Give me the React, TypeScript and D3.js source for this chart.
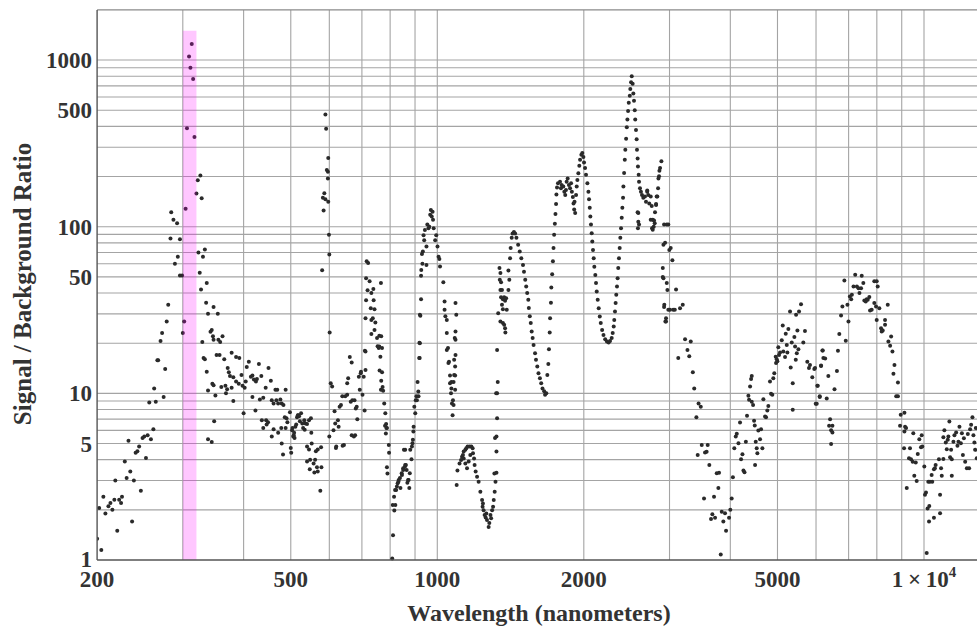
import React, { useEffect } from 'react';
import * as d3 from 'd3';

// [wavelength nm, signal/background ratio]
const uvRise: [number, number][] = [
  [200, 1.34], [204, 1.15], [202, 2.05], [206, 2.4], [208, 1.9], [211, 2.1], [213, 2.2], [215, 2.0], [217, 2.3],
  [220, 1.5], [222, 2.3], [224, 2.2], [225, 2.4], [218, 3.0], [230, 3.1], [234, 3.4], [228, 3.9], [236, 1.7],
  [238, 3.0], [232, 5.2], [240, 4.4], [242, 4.5], [244, 4.8], [246, 2.6], [248, 5.4], [250, 5.5], [254, 5.6],
  [252, 4.1], [258, 5.3], [261, 6.1], [256, 8.8], [264, 8.9], [262, 10.7], [274, 9.5], [266, 15.8], [267, 15.8],
  [276, 14.0], [270, 20.6], [272, 23], [278, 27], [280, 34], [283, 85], [296, 84], [284, 122], [287, 110],
  [292, 105], [289, 60], [293, 66], [296, 51], [299, 51],
];

const bandPeak: [number, number][] = [
  [300, 23], [302, 27], [304, 128], [313, 1250], [309, 1050], [311, 900], [315, 770], [306, 390], [317, 345],
  [326, 203], [322, 190], [320, 158], [328, 148],
];

const uvFall: [number, number][] = [
  [323, 70], [330, 66], [333, 73], [325, 53], [327, 42], [336, 46], [335, 35], [347, 33], [354, 30], [338, 30],
  [342, 23.4], [344, 24], [346, 22], [347, 21], [355, 21], [358, 20.3], [362, 22], [329, 20.3], [352, 17],
  [357, 17], [365, 16], [331, 16.3], [333, 16], [378, 17.5], [386, 16.5], [392, 16.3], [336, 13.5], [338, 10.4],
  [345, 11.4], [347, 11.2], [350, 9.7], [348, 6.8], [338, 5.3], [344, 5.1], [360, 10.9], [367, 11.1], [370, 10.6],
  [368, 10.0], [378, 10.8], [371, 14.2], [373, 13.4], [375, 12.7], [381, 12.5], [381, 9], [386, 11.8], [391, 11.4],
  [396, 12.9], [398, 11.1], [402, 10.8], [404, 11.8], [400, 7.6], [406, 14.4], [410, 15.5], [414, 12.6],
  [417, 12.8], [420, 12.1], [424, 11.8], [426, 12.2], [417, 9.5], [430, 15], [435, 12.7], [432, 9.2], [423, 7.9],
  [439, 9.4], [444, 10.8], [450, 14.2], [455, 11.9], [457, 9.1], [461, 8.7], [457, 5.5], [461, 6.1], [436, 6.9],
  [439, 6.2], [445, 6.9], [446, 6.5], [449, 6.7], [465, 10.5], [469, 10.5], [467, 9.1], [471, 8.7], [476, 9.2],
  [479, 8.7], [483, 8.5], [488, 10.5], [486, 7.2], [490, 7.1], [492, 6.7], [471, 5.8], [479, 5], [482, 4.3],
  [478, 6.2], [488, 6.2], [498, 7.7], [500, 4.7], [501, 4.4], [503, 6], [506, 5.5], [508, 5.8], [511, 6.3],
  [515, 7.2], [518, 7.4],
];

const greenDip: [number, number][] = [
  [504, 6.2], [507, 5.6], [509, 5.4], [513, 6.5], [517, 7.4], [520, 7.3], [525, 7.6], [522, 6.8], [528, 6.6],
  [533, 6.9], [536, 6.6], [540, 6.55], [545, 6.9], [550, 7.1], [530, 6.2], [534, 6.05], [540, 4.8], [545, 4.6],
  [540, 3.9], [548, 4.0], [547, 3.5], [552, 5.0], [557, 3.8], [561, 4.0], [563, 4.5], [568, 4.6], [566, 3.6],
  [559, 3.35], [568, 3.4], [578, 3.6], [577, 4.75], [575, 2.6], [551, 5.8],
];

const orangeSpike: [number, number][] = [
  [589, 471], [591, 387], [597, 258], [593, 219], [596, 214], [596, 195], [586, 159], [582, 149], [589, 146],
  [597, 141], [584, 125], [599, 89.5], [600, 68], [580, 54.8], [601, 23.2],
];

const redBand: [number, number][] = [
  [604, 11.5], [608, 11.0], [600, 5.5], [615, 7.8], [617, 6.6], [612, 6.0], [619, 4.7], [625, 6.9], [627, 6.3],
  [630, 8.3], [634, 8.5], [638, 9.6], [643, 4.9], [647, 9.6], [653, 9.8], [653, 11.5], [656, 12.3], [661, 16.5],
  [667, 15.3], [664, 8.9], [669, 9.1], [676, 9.1], [678, 5.6], [680, 8.1], [685, 7.0], [683, 8.3], [690, 12.6],
  [697, 13.5], [696, 13.2], [702, 9.8], [706, 12.6], [709, 7.9], [712, 13.8], [693, 10.5], [712, 17.8],
  [620, 4.8], [639, 4.85], [667, 5.6], [674, 5.5],
];

const deepRed: [number, number][] = [
  [716, 62], [721, 60.5], [714, 49], [726, 47], [719, 41.5], [739, 42.3], [732, 40], [714, 36.2], [740, 36.2],
  [730, 32.4], [743, 32], [712, 28.2], [732, 27.6], [737, 28.2], [746, 26.6], [732, 22.7], [743, 24], [752, 21.5],
  [760, 22.2], [767, 22], [754, 19.2], [758, 18.7], [764, 16.6], [770, 18.7], [766, 46], [761, 13.7], [770, 13.4],
  [767, 11.9], [772, 10.9], [774, 10.35], [778, 8.7], [782, 7.6], [785, 6.55], [788, 6.2], [784, 5.75], [795, 4.9],
  [796, 4.4], [788, 3.6], [790, 3.3], [710, 18], [760, 19.1], [766, 10.5], [781, 6.4], [786, 6.2],
];

const nearIr: [number, number][] = [
  [808, 1.02], [811, 1.41], [816, 1.98], [820, 2.14], [823, 2.63], [829, 2.89], [833, 3.02], [840, 2.7],
  [846, 3.24], [851, 3.55], [859, 3.72], [859, 4.58], [865, 3.47], [873, 3.02], [878, 3.32], [885, 4.03],
  [889, 5.02], [893, 5.9], [897, 8.3], [903, 9.1], [906, 9.6], [914, 10.25], [920, 16.3], [919, 20.1], [923, 29.2],
  [926, 36.7], [926, 50.8], [927, 55], [932, 60], [930, 68.5], [934, 71], [940, 83], [937, 89], [943, 95.5],
  [950, 59], [950, 76], [954, 103], [959, 98], [963, 100], [967, 118], [974, 115], [970, 126], [978, 123],
  [980, 110], [983, 98], [990, 83], [995, 89], [1001, 76], [1006, 66], [1010, 64], [1013, 57.7],
  [810, 2.14], [815, 2.4], [819, 2.63], [826, 2.76], [832, 2.95], [838, 3.1], [845, 3.32], [851, 3.47],
  [858, 3.63], [862, 3.72], [871, 3.02], [876, 2.7], [868, 2.91], [854, 4.58], [880, 4.58], [887, 4.8],
  [891, 5.26], [894, 6.3], [901, 7.6], [908, 9.1], [911, 11.7], [915, 9.6], [918, 16.3], [921, 20], [921, 29.6],
];

const micronFall: [number, number][] = [
  [1029, 46.5], [1035, 35.6], [1039, 29], [1046, 23], [1052, 18.7], [1054, 15.2], [1062, 11.5], [1067, 10],
  [1072, 8.7], [1075, 7.4], [1035, 31.7], [1046, 27.6], [1046, 18.2], [1057, 15.5], [1062, 12.8], [1069, 11.7],
  [1069, 10.7], [1077, 9.1], [1080, 8.5], [1090, 34.8], [1094, 29.6], [1090, 23.5], [1090, 21], [1090, 17],
  [1088, 14.5], [1088, 12.8], [1080, 11.7], [1088, 10.5], [1086, 21.5], [1083, 15.9], [1083, 12.9],
];

const waterBump: [number, number][] = [
  [1096, 2.82], [1100, 3.44], [1111, 3.8], [1119, 3.98], [1124, 4.17], [1129, 4.27], [1133, 4.48], [1142, 4.58],
  [1147, 4.69], [1154, 4.8], [1165, 4.8], [1175, 4.8], [1182, 4.69], [1184, 4.37], [1190, 4.07], [1193, 3.72],
  [1199, 3.4], [1207, 3.16], [1216, 2.95], [1226, 2.57], [1236, 2.29], [1239, 2.09], [1245, 1.99], [1251, 1.86],
  [1257, 1.8], [1265, 1.74], [1275, 1.58], [1279, 1.67], [1286, 1.86], [1290, 1.78], [1296, 1.99], [1302, 2.09],
  [1306, 2.29], [1312, 2.57], [1317, 2.95], [1323, 3.34], [1133, 4.07], [1142, 3.8], [1151, 3.55], [1160, 3.9],
  [1169, 4.27], [1241, 2.18], [1261, 1.9],
];

const hBandRise: [number, number][] = [
  [1323, 4.48], [1323, 5.5], [1327, 7.1], [1327, 10], [1331, 11.7], [1327, 18.2], [1310, 3.3], [1314, 5.4],
  [1321, 10], [1342, 56.5], [1348, 52.7], [1344, 48], [1352, 46.5], [1348, 41.7], [1358, 41.7], [1352, 37.7],
  [1364, 36.7], [1372, 37.7], [1385, 37.2], [1378, 36], [1358, 34], [1364, 32], [1334, 30.3], [1348, 27],
  [1364, 26.4], [1372, 25.8], [1378, 24.6], [1380, 23.2], [1389, 31.7], [1400, 41.7], [1406, 48], [1400, 54.6],
  [1411, 64.6], [1415, 74.5], [1422, 85.8], [1428, 91], [1437, 93], [1445, 91], [1454, 85.8],
];

const hBandFall: [number, number][] = [
  [1466, 78], [1477, 71], [1488, 64.6], [1500, 59], [1507, 53.6], [1516, 48], [1523, 43.8], [1530, 40],
  [1538, 36.4], [1542, 32.5], [1549, 29], [1556, 26.4], [1563, 23.5], [1570, 21.5], [1577, 19.5], [1588, 17.4],
  [1595, 15.9], [1605, 14.5], [1614, 13.2], [1625, 12.3], [1635, 11.5], [1645, 10.7], [1658, 10.3], [1665, 9.8],
  [1675, 10], [1683, 12.9], [1691, 15], [1696, 18.4], [1702, 23.2], [1705, 28.2], [1712, 35], [1715, 43.2],
  [1722, 51.9], [1728, 62], [1733, 74.5], [1738, 89.5], [1744, 104], [1749, 119], [1754, 137], [1757, 156],
  [1762, 172], [1770, 182],
];

const twoMicron: [number, number][] = [
  [1787, 186], [1801, 178], [1795, 170], [1815, 174], [1824, 162], [1832, 155], [1838, 166], [1844, 186],
  [1853, 195], [1864, 178], [1874, 170], [1883, 182], [1890, 162], [1899, 151], [1905, 138], [1911, 127],
  [1920, 121], [1914, 141], [1928, 155], [1934, 174], [1940, 191], [1949, 209], [1958, 232], [1965, 252],
  [1977, 270], [1986, 277], [1996, 262], [2002, 243], [2012, 225], [2021, 205],
];

const kBand: [number, number][] = [
  [2034, 182], [2044, 162], [2050, 146], [2057, 130], [2063, 115], [2069, 103], [2076, 91.5], [2082, 81.5],
  [2089, 72.6], [2096, 64.6], [2102, 57.5], [2112, 51.3], [2119, 46], [2126, 40.8], [2136, 36.4], [2146, 32.4],
  [2157, 28.9], [2167, 26.4], [2181, 24], [2195, 22.4], [2213, 21.1], [2231, 20.5], [2249, 20.2], [2264, 20.6],
  [2282, 21.5], [2293, 23], [2304, 25.2], [2310, 27.6], [2318, 31], [2325, 34.8], [2332, 39], [2340, 43.8],
  [2347, 49], [2354, 56.5], [2362, 64.6], [2370, 74.5], [2377, 86], [2385, 98], [2393, 113], [2400, 130],
  [2408, 149], [2412, 174], [2420, 210], [2428, 252], [2434, 290], [2443, 337], [2451, 395], [2458, 440],
  [2466, 495], [2474, 555], [2486, 610], [2492, 670], [2501, 735], [2509, 800],
];

const peakFall: [number, number][] = [
  [2520, 720], [2528, 630], [2536, 570], [2545, 500], [2551, 440], [2560, 380], [2568, 335], [2572, 290],
  [2580, 257], [2584, 230], [2593, 205], [2597, 186], [2609, 170], [2621, 162], [2634, 155], [2650, 149],
  [2671, 152], [2684, 141], [2700, 162], [2713, 155], [2726, 138], [2745, 152], [2758, 133], [2771, 110],
  [2784, 100], [2797, 105], [2815, 135], [2832, 152], [2842, 170], [2855, 201], [2869, 225], [2887, 247],
  [2588, 121], [2597, 103], [2584, 98], [2924, 103], [2961, 103], [2983, 103], [2915, 78], [2938, 80],
  [2906, 56.5], [2915, 49], [2961, 46], [2970, 41.7], [2924, 33], [2942, 27], [2983, 31.7], [2860, 217],
  [2847, 195], [2823, 152], [2815, 137], [2801, 122], [2788, 109], [2762, 98], [2771, 96], [2745, 110],
  [2700, 165], [2588, 107], [2580, 122], [3017, 74.5], [2997, 72.6], [3041, 63], [2906, 50], [3094, 42],
  [2927, 34], [3007, 31.7], [3053, 31.7], [3076, 31.7], [3153, 32.4], [3194, 34], [2951, 27], [2951, 28.2],
];

const midIrDip: [number, number][] = [
  [3229, 21.1], [3317, 20.5], [3266, 18.2], [3294, 16.7], [3127, 16.3], [3350, 13.4], [3372, 10.7], [3442, 8.7],
  [3478, 8.3], [3407, 7.2], [3494, 4.9], [3594, 4.9], [3549, 4.41], [3576, 4.47], [3428, 4.27], [3622, 3.72],
  [3751, 3.32], [3792, 3.34], [3780, 2.7], [3703, 2.4], [3532, 2.34], [3674, 1.88], [3721, 1.79], [3651, 1.76],
  [3841, 1.95], [3901, 1.91], [3870, 1.7], [3920, 1.5], [3976, 1.79], [4000, 2.0], [4026, 2.34], [3823, 1.08],
  [4049, 3.14],
];

const mBand: [number, number][] = [
  [4076, 4.69], [4104, 5.5], [4124, 5.73], [4157, 5.02], [4188, 6.68], [4208, 4.02], [4236, 4.31], [4256, 3.44],
  [4277, 3.36], [4305, 5.13], [4329, 7.33], [4357, 9.66], [4392, 11.0], [4413, 12.2], [4427, 12.7], [4371, 9.14],
  [4427, 8.9], [4455, 8.5], [4476, 6.84], [4490, 6.41], [4511, 5.13], [4532, 4.69], [4497, 3.72], [4546, 4.37],
  [4567, 5.98], [4604, 5.31], [4626, 6.1], [4655, 4.69], [4677, 9.23], [4714, 7.26], [4736, 7.2], [4765, 7.88],
  [4788, 8.41], [4826, 11.8], [4849, 9.93], [4879, 9.8], [4902, 12.3], [4925, 13.2], [4958, 16.6], [4982, 16.0],
  [4966, 15.2], [4997, 15.6], [5020, 18.9], [5037, 17.0], [5061, 17.6], [5102, 20.8], [5126, 25.5], [5140, 17.8],
  [5182, 16.5], [5199, 22.8], [5224, 19.5], [5239, 17.6], [5264, 24.3], [5306, 31.0], [5323, 14.3], [5349, 20.2],
  [5374, 11.5], [5374, 7.96], [5416, 21.8], [5434, 19.1], [5452, 15.9], [5460, 29.6], [5478, 17.4], [5494, 23.8],
  [5520, 18.4], [5536, 31.0], [5589, 34.3], [5650, 20.2], [5694, 23.7], [5757, 15.5], [5803, 14.2], [5831, 14.8],
  [5895, 12.5], [5951, 14.0], [5991, 8.65], [6037, 11.1], [6106, 9.6], [6144, 14.6], [6194, 18.1], [6212, 16.3],
];

const nBand: [number, number][] = [
  [5972, 14.2], [6049, 11.1], [6106, 9.5], [6020, 8.65], [6312, 9.3], [6184, 18.1], [6265, 16.2], [6144, 14.7],
  [6360, 12.7], [6413, 7.0], [6383, 6.4], [6484, 6.4], [6444, 6.0], [6484, 5.82], [6444, 4.97], [6548, 10.6],
  [6624, 13.6], [6656, 18.0], [6699, 22.7], [6754, 29.3], [6797, 33.2], [6907, 20.7], [6961, 34.0], [6995, 27.0],
  [6861, 47.6], [7042, 38.1], [7086, 36.7], [7109, 39.0], [7164, 43.8], [7222, 51.5], [7280, 43.8], [7335, 42.8],
  [7369, 40.0], [7424, 42.8], [7448, 50.8], [7505, 46.0], [7541, 36.1], [7591, 35.6], [7627, 36.7], [7663, 36.4],
  [7721, 37.8], [7747, 31.4], [7808, 31.7], [7905, 34.8], [7969, 33.2], [7905, 47], [7995, 47], [8033, 43.8],
  [8095, 32.4], [7995, 27.6], [8161, 24.6], [8187, 23.5], [8226, 23.8], [8317, 25.8], [8317, 27.6], [8424, 34.0],
  [8450, 20.5], [8519, 19.3], [8560, 21.9], [8613, 17.8], [8696, 14.8], [8654, 13.1], [8768, 9.6], [8840, 9.6],
  [8840, 11.6], [8958, 7.43], [9115, 7.65], [8928, 6.4], [9115, 5.9], [9143, 6.3], [9187, 6.2], [9100, 4.69],
  [9216, 2.7], [9359, 4.69], [9315, 4.08], [9404, 4.02], [9479, 3.89], [9506, 5.77], [9551, 3.2], [9617, 3.84],
  [9661, 2.98], [9709, 4.33],
];

const farIr: [number, number][] = [
  [9781, 5.31], [9859, 4.75], [9892, 5.6], [9920, 4.8], [10015, 3.64], [10047, 2.46], [10095, 2.54], [10205, 2.95],
  [10253, 2.11], [10286, 2.95], [10368, 3.24], [10398, 2.95], [10481, 3.5], [10530, 3.55], [10565, 3.72],
  [10731, 4.02], [10790, 2.46], [10841, 3.55], [10877, 3.2], [10960, 4.04], [10960, 5.46], [11012, 6.0],
  [11085, 5.07], [11138, 4.62], [11190, 5.26], [11222, 5.5], [11276, 6.77], [11314, 4.14], [11368, 4.58],
  [11405, 4.02], [11405, 3.2], [11493, 5.13], [11548, 5.6], [11642, 5.82], [11715, 4.84], [11771, 5.13],
  [11827, 6.3], [11906, 5.02], [11963, 5.77], [12020, 4.27], [12077, 5.38], [12150, 3.89], [12247, 3.55],
  [12305, 5.7], [12380, 3.55], [12439, 6.1], [12498, 6.47], [12575, 7.2], [12634, 5.6], [12693, 5.07],
  [12735, 4.58], [12776, 6.2], [12836, 4.08], [10128, 1.1], [10240, 1.7], [10481, 1.79], [10790, 1.91],
  [10171, 2.04],
];

const allPoints = [
  ...uvRise, ...bandPeak, ...uvFall, ...greenDip, ...orangeSpike, ...redBand, ...deepRed, ...nearIr,
  ...micronFall, ...waterBump, ...hBandRise, ...hBandFall, ...twoMicron, ...kBand, ...peakFall, ...midIrDip,
  ...mBand, ...nBand, ...farIr,
];

const xGrid = [300, 400, 500, 600, 700, 800, 900, 1000, 2000, 3000, 4000, 5000, 6000, 7000, 8000, 9000, 10000];
const yGrid = [2, 3, 4, 5, 6, 7, 8, 9, 10, 20, 30, 40, 50, 60, 70, 80, 90, 100, 200, 300, 400, 500, 600, 700, 800, 900, 1000];
const xTicks = [200, 500, 1000, 2000, 5000];
const yTicks = [1, 5, 10, 50, 100, 500, 1000];
const highlight = { from: 300, to: 320, top: 1500 };

const W = 977;
const H = 627;
const FONT = '"Liberation Serif", "Times New Roman", serif';

export default function App() {
  useEffect(() => {
    document.body.style.margin = '0';
  }, []);

  const x = d3.scaleLog().domain([200, 10000]).range([97.1, 924]);
  const y = d3.scaleLog().domain([1, 2000]).range([560, 9.9]);
  const left = x(200);
  const top = y(2000);
  const bottom = y(1);

  return (
    <svg width={W} height={H} style={{ display: 'block', background: '#fff' }}>
      <defs>
        <clipPath id="plot-clip">
          <rect x={left} y={top - 1} width={W - left} height={bottom - top + 2} />
        </clipPath>
      </defs>

      <g stroke="#a4a4a4" strokeWidth={1.1}>
        {yGrid.map(v => (
          <line key={'h' + v} x1={left} x2={W} y1={y(v)} y2={y(v)} />
        ))}
        {xGrid.map(v => (
          <line key={'v' + v} x1={x(v)} x2={x(v)} y1={top} y2={bottom} />
        ))}
      </g>

      <g clipPath="url(#plot-clip)" fill="#2a2a2a">
        {allPoints.map((d, i) => (
          <circle key={i} cx={x(d[0])} cy={y(d[1])} r={2} />
        ))}
      </g>

      <rect
        x={x(highlight.from)}
        y={y(highlight.top)}
        width={x(highlight.to) - x(highlight.from)}
        height={bottom - y(highlight.top)}
        fill="#ff00ff"
        fillOpacity={0.22}
      />

      <line x1={left} x2={W} y1={top} y2={top} stroke="#8a8a8a" strokeWidth={1.2} />
      <line x1={left} x2={left} y1={top} y2={bottom} stroke="#555" strokeWidth={1.4} />
      <line x1={left} x2={W} y1={bottom} y2={bottom} stroke="#555" strokeWidth={1.4} />

      <g fontFamily={FONT} fontWeight="bold" fontSize={23} fill="#333">
        {yTicks.map(v => (
          <text key={'yt' + v} x={92} y={y(v) + (v === 1 ? 7 : 8)} textAnchor="end">{v}</text>
        ))}
        {xTicks.map(v => (
          <text key={'xt' + v} x={x(v)} y={587} textAnchor="middle">{v}</text>
        ))}
        <text x={x(10000)} y={587} textAnchor="middle">
          1{'\u2009'}×{'\u2009'}10<tspan fontSize={15} dy={-10}>4</tspan>
        </text>
      </g>

      <g fontFamily={FONT} fontWeight="bold" fill="#333">
        <text x={539} y={621} fontSize={24} textAnchor="middle">Wavelength (nanometers)</text>
        <text transform="translate(31,284) rotate(-90)" fontSize={25} textAnchor="middle">Signal / Background Ratio</text>
      </g>
    </svg>
  );
}
